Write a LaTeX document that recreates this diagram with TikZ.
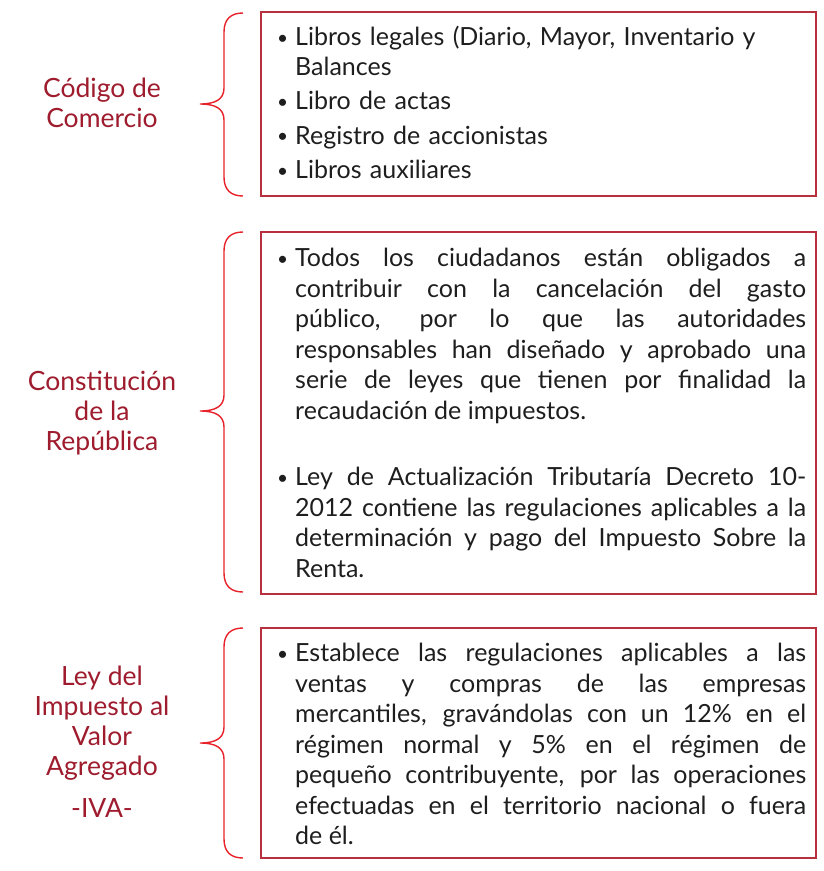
\documentclass[tikz,border=0pt]{standalone}
\usepackage{fontspec}
\setmainfont{Lato}
\definecolor{lbl}{HTML}{9E1C2E}
\definecolor{brc}{HTML}{E8222A}
\definecolor{bxc}{HTML}{B8303E}
\definecolor{txt}{HTML}{1E1E1E}
\newcommand{\mybul}{\makebox[18pt][l]{\raisebox{1.5pt}{\fontsize{19}{19}\selectfont •}}}
\newcommand{\bitem}[1]{\par\noindent\hangindent=18pt\hangafter=1\mybul#1\par}
\tikzset{
  lab/.style={text=lbl, align=center, font=\fontsize{26.5}{30}\selectfont, inner sep=0pt},
  bx/.style={draw=bxc, line width=1.6pt},
  brace/.style={draw=brc, line width=1.4pt},
  body/.style={text=txt, anchor=north west, inner sep=0pt, text width=529pt, align=justify, font=\fontsize{25}{30.5}\selectfont}
}
\begin{document}
\begin{tikzpicture}[x=1pt,y=-1pt]
\useasboundingbox (0,0) rectangle (824,871);
% boxes
\draw[bx] (261,12) rectangle (816,196);
\draw[bx] (261,232) rectangle (816,594);
\draw[bx] (261,628) rectangle (816,858);
% braces
\draw[brace] (243,13) .. controls (231,13) and (224,19) .. (224,32) -- (224,88) .. controls (224,99) and (216,104) .. (200,104) .. controls (216,104) and (224,109) .. (224,120) -- (224,177) .. controls (224,190) and (231,196) .. (243,196);
\draw[brace] (243,232) .. controls (231,232) and (224,238) .. (224,251) -- (224,395) .. controls (224,406) and (216,411) .. (200,411) .. controls (216,411) and (224,416) .. (224,427) -- (224,573) .. controls (224,586) and (231,592) .. (243,592);
\draw[brace] (243,628) .. controls (231,628) and (224,634) .. (224,647) -- (224,727) .. controls (224,738) and (216,743) .. (200,743) .. controls (216,743) and (224,748) .. (224,759) -- (224,839) .. controls (224,852) and (231,858) .. (243,858);
% labels
\node[lab] (l1) at (102,103) {Código de\\Comercio};
\node[lab] (l2) at (102,413) {Constitución\\de la\\República};
\node[lab] (l3) at (102,723) {Ley del\\Impuesto al\\Valor\\Agregado};
\node[lab] (l4) at (102,808) {-IVA-};
% bodies
\node[body, align=left, font=\fontsize{25}{29.5}\selectfont] (b1) at (277,16) {
\bitem{Libros legales (Diario, Mayor, Inventario y\newline Balances}
\vspace{5pt}\bitem{Libro de actas}
\vspace{5pt}\bitem{Registro de accionistas}
\vspace{5pt}\bitem{Libros auxiliares}};
\node[body] (b2) at (277,236) {
\bitem{Todos los ciudadanos están obligados a\linebreak contribuir con la cancelación del gasto\linebreak público, por lo que las autoridades\linebreak responsables han diseñado y aprobado una\linebreak serie de leyes que tienen por finalidad la\linebreak recaudación de impuestos.}
\vspace{36pt}\bitem{Ley de Actualización Tributaría Decreto 10-\linebreak 2012 contiene las regulaciones aplicables a la\linebreak determinación y pago del Impuesto Sobre la\linebreak Renta.}};
\node[body] (b3) at (277,631) {
\bitem{Establece las regulaciones aplicables a las\linebreak ventas y compras de las empresas\linebreak mercantiles, gravándolas con un 12\% en el\linebreak régimen normal y 5\% en el régimen de\linebreak pequeño contribuyente, por las operaciones\linebreak efectuadas en el territorio nacional o fuera\linebreak de él.}};
\end{tikzpicture}
\end{document}
